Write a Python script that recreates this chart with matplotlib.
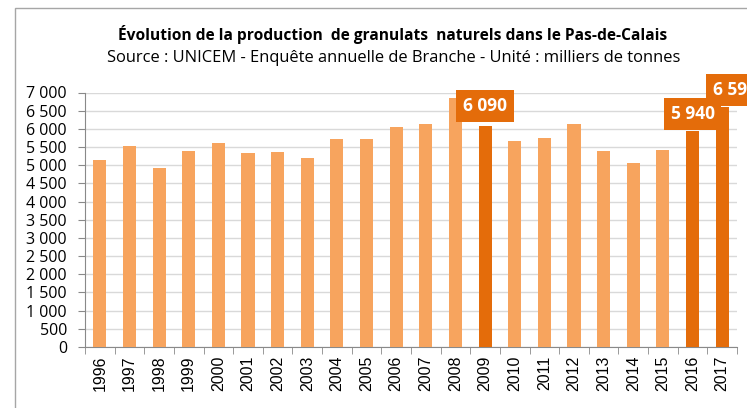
import numpy as np
import matplotlib
import matplotlib.pyplot as plt
from matplotlib import font_manager
from matplotlib.ticker import FuncFormatter, MultipleLocator
from matplotlib.patches import Rectangle

# données (milliers de tonnes)
years = [str(y) for y in range(1996, 2018)]
values = [5150, 5520, 4930, 5390, 5620, 5330, 5350, 5200, 5720, 5720, 6040,
          6130, 6850, 6090, 5660, 5760, 6140, 5390, 5070, 5420, 5940, 6590]
highlight = ["2009", "2016", "2017"]

names = {f.name for f in font_manager.fontManager.ttflist}
narrow = "Liberation Sans Narrow" if "Liberation Sans Narrow" in names else "Open Sans"

light = "#F7A45E"
dark = "#E46C0A"

fig = plt.figure(figsize=(7.47, 4.08), dpi=100)
ax = fig.add_axes([85 / 747, 1 - 347 / 408, 652 / 747, 254.5 / 408])

x = np.arange(len(years))
colors = [dark if y in highlight else light for y in years]
ax.bar(x, values, width=0.44, color=colors, zorder=3)

ax.set_xlim(-0.5, len(years) - 0.5)
ax.set_ylim(0, 7000)
ax.yaxis.set_major_locator(MultipleLocator(500))
ax.yaxis.set_major_formatter(FuncFormatter(lambda v, p: f"{int(v):,}".replace(",", " ")))
ax.grid(axis="y", color="#D9D9D9", linewidth=1, zorder=0)

ax.set_xticks(x)
ax.set_xticklabels(years, rotation=90, fontsize=11.5, family="Liberation Sans")
ax.set_xticks(np.arange(-0.5, len(years)), minor=True)
ax.tick_params(axis="x", which="major", length=0, pad=6)
ax.tick_params(axis="x", which="minor", length=5, color="#898989")
ax.tick_params(axis="y", length=5, color="#898989", labelsize=11.5, pad=8)
for lab in ax.get_yticklabels():
    lab.set_family(narrow)

for s in ["top", "right"]:
    ax.spines[s].set_visible(False)
for s in ["left", "bottom"]:
    ax.spines[s].set_color("#898989")

# étiquettes des années mises en avant
offsets = {"2009": (0, 14), "2016": (0, 12), "2017": (9, 12.5)}
for y, (dx, dy) in offsets.items():
    i = years.index(y)
    ax.annotate(f"{values[i]:,}".replace(",", " "), (x[i], values[i]),
                xytext=(dx, dy), textcoords="offset points",
                ha="center", va="center", color="white", fontsize=12.5,
                fontweight="bold", family=narrow, annotation_clip=False,
                bbox=dict(boxstyle="square,pad=0.4", fc=dark, ec="none"), zorder=5)

fig.text(393 / 747, 1 - 35 / 408, "Évolution de la production  de granulats  naturels dans le Pas-de-Calais",
         ha="center", va="center", fontsize=11.2, fontweight="bold", family=narrow)
fig.text(394 / 747, 1 - 58 / 408, "Source : UNICEM - Enquête annuelle de Branche - Unité : milliers de tonnes",
         ha="center", va="center", fontsize=11.9, family=narrow)

# cadre du graphique
fig.patches.append(Rectangle((15 / 747, -0.1), 1.2, 1 - 8 / 408 + 0.1, transform=fig.transFigure,
                             fill=False, ec="#A6A6A6", lw=1))

fig.savefig("out.png", dpi=100)
